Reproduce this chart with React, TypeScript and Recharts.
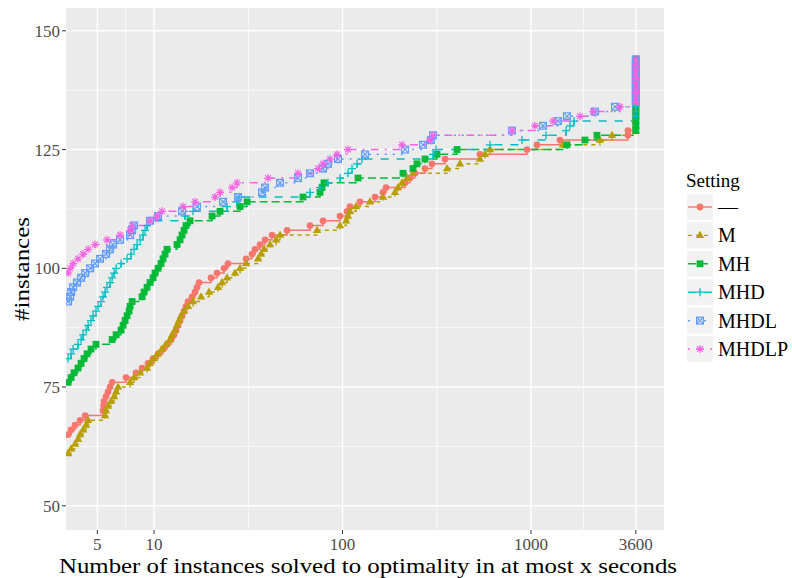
import React from 'react'
import { LineChart, Line, XAxis, YAxis, CartesianGrid, Label } from 'recharts'

type Pt = [number, number]

const settings = ['—', 'M', 'MH', 'MHD', 'MHDL', 'MHDLP']
const colors = ['#F8766D', '#B79F00', '#00BA38', '#00BFC4', '#619CFF', '#F564E3']
const dashes = ['', '4 4', '8 4', '8 8', '2 6', '2 6 8 6']

const xTicks = [5, 10, 100, 1000, 3600]
const xMinor = [7.07, 31.62, 316.2, 1897]
const yTicks = [50, 75, 100, 125, 150]
const yMinor = [62.5, 87.5, 112.5, 137.5]

// [seconds, #instances solved]
const plain: Pt[] = [
  [3.5, 65], [3.63, 66], [3.81, 67], [4.05, 68], [4.31, 69], [5.36, 70], [5.4, 71], [5.43, 72],
  [5.56, 73], [5.7, 74], [5.84, 75], [5.99, 76], [7.1, 77], [8.03, 78], [8.64, 79], [9.29, 80],
  [9.88, 81], [10.5, 82], [11.16, 83], [11.72, 84], [12.31, 85], [12.77, 86], [13.08, 87],
  [13.41, 88], [13.74, 89], [14.08, 90], [14.43, 91], [14.78, 92], [15.15, 93], [15.91, 94],
  [16.5, 95], [16.91, 96], [17.33, 97], [20.06, 98], [21.59, 99], [23.52, 100], [24.69, 101],
  [30.77, 102], [33.11, 103], [34.35, 104], [36.51, 105], [38.81, 106], [42.27, 107], [50.77, 108],
  [67.24, 109], [78.81, 110], [96.98, 111], [105.7, 112], [109.6, 113], [123.8, 114], [148.7, 115],
  [164, 116], [170.2, 117], [214.6, 118], [228.1, 119], [242.4, 120], [274, 121], [298.4, 122],
  [349.8, 123], [536.2, 124], [952.3, 125], [1076, 126], [1425, 127], [3270, 128], [3270, 129],
  [3600, 130], [3600, 131], [3600, 132], [3600, 133], [3600, 134], [3600, 135], [3600, 136],
  [3600, 137], [3600, 138], [3600, 139], [3600, 140], [3600, 141], [3600, 142], [3600, 143], [3600, 144],
]

const m: Pt[] = [
  [3.5, 61], [3.63, 62], [3.81, 63], [3.95, 64], [4.05, 65], [4.2, 66], [4.36, 67], [4.47, 68],
  [5.5, 69], [5.56, 70], [5.7, 71], [5.91, 72], [6.14, 73], [6.29, 74], [6.44, 75], [7.46, 76],
  [7.83, 77], [8.43, 78], [9.18, 79], [9.52, 80], [10, 81], [10.5, 82], [11.03, 83], [11.58, 84],
  [12.16, 85], [12.46, 86], [12.93, 87], [13.24, 88], [13.57, 89], [13.91, 90], [14.43, 91],
  [15.15, 92], [16.1, 93], [17.76, 94], [19.58, 95], [21.86, 96], [22.95, 97], [24.39, 98],
  [26.9, 99], [28.59, 100], [30.77, 101], [35.63, 102], [36.96, 103], [38.34, 104], [41.25, 105],
  [44.39, 106], [46.61, 107], [73.24, 108], [96.98, 109], [104.4, 110], [106.9, 111], [109.6, 112],
  [117.9, 113], [139.9, 114], [164, 115], [189.9, 116], [197, 117], [206.9, 118], [219.9, 119],
  [236.6, 120], [358.5, 121], [420.1, 122], [536.2, 123], [570.2, 124], [606.2, 125], [1478, 126],
  [2323, 127], [2690, 128],
  [3600, 129], [3600, 130], [3600, 131], [3600, 132], [3600, 133], [3600, 134], [3600, 135],
  [3600, 136], [3600, 137], [3600, 138], [3600, 139], [3600, 140], [3600, 141], [3600, 142],
  [3600, 143], [3600, 144],
]

const mh: Pt[] = [
  [3.5, 76], [3.63, 77], [3.76, 78], [3.95, 79], [4.1, 80], [4.25, 81], [4.41, 82], [4.63, 83],
  [4.92, 84], [5.99, 85], [6.29, 86], [6.68, 87], [6.85, 88], [7.02, 89], [7.19, 90], [7.37, 91],
  [7.46, 92], [7.65, 93], [8.64, 94], [8.85, 95], [9.18, 96], [9.52, 97], [9.88, 98], [10.12, 99],
  [10.5, 100], [10.89, 101], [11.16, 102], [11.44, 103], [11.72, 104], [13.24, 105], [13.74, 106],
  [14.08, 107], [14.43, 108], [14.78, 109], [15.53, 110], [20.31, 111], [22.39, 112], [28.59, 113],
  [31.15, 114], [61.72, 115], [75.96, 116], [77.84, 117], [79.78, 118], [120.9, 119], [209.4, 120],
  [236.6, 121], [248.4, 122], [274, 123], [317.2, 124], [405, 125], [1552, 126], [1934, 127],
  [2239, 128],
  [3600, 129], [3600, 130], [3600, 131], [3600, 132], [3600, 133], [3600, 134], [3600, 135],
  [3600, 136], [3600, 137], [3600, 138], [3600, 139], [3600, 140], [3600, 141], [3600, 142],
  [3600, 143], [3600, 144],
]

const mhd: Pt[] = [
  [3.5, 81], [3.63, 82], [3.72, 83], [3.95, 84], [4.1, 85], [4.2, 86], [4.36, 87], [4.47, 88],
  [4.63, 89], [4.75, 90], [4.92, 91], [5.05, 92], [5.23, 93], [5.36, 94], [5.5, 95], [5.63, 96],
  [5.84, 97], [5.99, 98], [6.14, 99], [6.29, 100], [6.68, 101], [7.19, 102], [7.55, 103], [7.83, 104],
  [8.13, 105], [8.43, 106], [8.74, 107], [8.96, 108], [9.18, 109], [9.52, 110], [14.6, 111],
  [16.1, 112], [24.39, 113], [27.56, 114], [28.24, 115], [67.24, 116], [75.96, 117], [83.76, 118],
  [96.98, 119], [106.9, 120], [112.3, 121], [119.5, 122], [126.9, 123], [302.1, 124], [313.4, 125],
  [606.2, 126], [896.3, 127], [1201, 128], [1534, 129], [1610, 130], [1691, 131],
  [3600, 132], [3600, 133], [3600, 134], [3600, 135], [3600, 136], [3600, 137], [3600, 138],
  [3600, 139], [3600, 140], [3600, 141], [3600, 142], [3600, 143], [3600, 144],
]

const mhdl: Pt[] = [
  [3.5, 93], [3.59, 94], [3.63, 95], [3.72, 96], [3.9, 97], [4.1, 98], [4.31, 99], [4.58, 100],
  [4.86, 101], [5.17, 102], [5.56, 103], [5.84, 104], [6.06, 105], [6.6, 106], [7.46, 107],
  [7.65, 108], [7.83, 109], [9.52, 110], [10.5, 111], [14.08, 112], [16.91, 113], [23.23, 114],
  [27.9, 115], [37.41, 116], [38.81, 117], [46.61, 118], [58.06, 119], [67.24, 120], [78.81, 121],
  [83.76, 122], [94.65, 123], [131.6, 124], [214.6, 125], [267.3, 126], [294.8, 127], [302.1, 128],
  [792.9, 129], [1158, 130], [1391, 131], [1552, 132], [2185, 133], [2790, 134],
  [3600, 135], [3600, 136], [3600, 137], [3600, 138], [3600, 139], [3600, 140], [3600, 141],
  [3600, 142], [3600, 143], [3600, 144],
]

const mhdlp: Pt[] = [
  [3.5, 99], [3.59, 100], [3.72, 101], [3.95, 102], [4.2, 103], [4.47, 104], [4.86, 105],
  [5.63, 106], [6.6, 107], [7.46, 108], [7.65, 109], [9.52, 110], [10.37, 111], [11.03, 112],
  [14.25, 113], [16.5, 114], [21.07, 115], [22.39, 116], [25.93, 117], [27.56, 118], [40.26, 119],
  [58.06, 120], [74.13, 121], [78.81, 122], [85.84, 123], [93.51, 124], [106.9, 125], [206.9, 126],
  [291.2, 127], [302.1, 128], [792.9, 129], [1050, 130], [1309, 131], [1820, 132], [2133, 133],
  [2966, 134],
  [3600, 135], [3600, 136], [3600, 137], [3600, 138], [3600, 139], [3600, 140], [3600, 141],
  [3600, 142], [3600, 143], [3600, 144],
]

const series = [plain, m, mh, mhd, mhdl, mhdlp]

const FONT = 'Liberation Serif, DejaVu Serif, serif'

function Marker({ shape, cx, cy, color }: { shape: number; cx: number; cy: number; color: string }) {
  if (cx == null || cy == null) return <g />
  const r = 4
  switch (shape) {
    case 0:
      return <circle cx={cx} cy={cy} r={3.4} fill={color} />
    case 1:
      return <polygon points={`${cx},${cy - 4.6} ${cx - 4.2},${cy + 2.6} ${cx + 4.2},${cy + 2.6}`} fill={color} />
    case 2:
      return <rect x={cx - 3.4} y={cy - 3.4} width={6.8} height={6.8} fill={color} />
    case 3:
      return <path d={`M${cx - r},${cy}H${cx + r}M${cx},${cy - r}V${cy + r}`} stroke={color} strokeWidth={1.3} fill="none" />
    case 4:
      return (
        <g stroke={color} strokeWidth={1.2} fill="none">
          <rect x={cx - 3.4} y={cy - 3.4} width={6.8} height={6.8} />
          <path d={`M${cx - 3.4},${cy - 3.4}L${cx + 3.4},${cy + 3.4}M${cx - 3.4},${cy + 3.4}L${cx + 3.4},${cy - 3.4}`} />
        </g>
      )
    default:
      return (
        <path
          d={`M${cx - r},${cy}H${cx + r}M${cx},${cy - r}V${cy + r}M${cx - 2.9},${cy - 2.9}L${cx + 2.9},${cy + 2.9}M${cx - 2.9},${cy + 2.9}L${cx + 2.9},${cy - 2.9}`}
          stroke={color}
          strokeWidth={1.2}
          fill="none"
        />
      )
  }
}

function LegendBox() {
  return (
    <svg width={106} height={200} style={{ position: 'absolute', left: 686, top: 165, fontFamily: FONT }}>
      <text x={0} y={22} style={{ fontFamily: FONT }} fontSize={19} fill="#000">Setting</text>
      {settings.map((s, i) => {
        const top = 29 + i * 28.4
        const cy = top + 13
        return (
          <g key={s}>
            <rect x={1} y={top} width={26} height={26} fill="#F2F2F2" />
            <line x1={2} x2={26} y1={cy} y2={cy} stroke={colors[i]} strokeWidth={1.4} strokeDasharray={dashes[i]} />
            <Marker shape={i} cx={14} cy={cy} color={colors[i]} />
            <text x={32} y={cy + 7} style={{ fontFamily: FONT }} fontSize={20} fill="#000">{s}</text>
          </g>
        )
      })}
    </svg>
  )
}

export default function App() {
  return (
    <div style={{ position: 'absolute', left: 0, top: 0, width: 792, height: 578, background: '#fff', fontFamily: FONT }}>
      <LineChart width={792} height={578} margin={{ top: 8, right: 128, left: 0, bottom: 0 }} style={{ fontFamily: FONT }}>
        <CartesianGrid fill="#EBEBEB" stroke="#fff" strokeWidth={0.7} horizontalValues={yMinor} verticalValues={xMinor} />
        <CartesianGrid stroke="#fff" strokeWidth={1.4} horizontalValues={yTicks} verticalValues={xTicks} />
        <XAxis
          dataKey="t"
          type="number"
          scale="log"
          domain={[3.41, 5080]}
          allowDataOverflow
          ticks={xTicks}
          height={48}
          axisLine={false}
          tickSize={4}
          tickMargin={4}
          tickLine={{ stroke: '#333' }}
          tick={{ fill: '#4D4D4D', fontSize: 17, style: { fontFamily: FONT } }}
        >
          <Label
            content={() => (
              <text x={368} y={573} textAnchor="middle" style={{ fontFamily: FONT }} fontSize={21} fill="#000" textLength={618} lengthAdjust="spacingAndGlyphs">
                Number of instances solved to optimality in at most  x seconds
              </text>
            )}
          />
        </XAxis>
        <YAxis
          type="number"
          domain={[44.9, 154.8]}
          allowDataOverflow
          ticks={yTicks}
          width={66}
          axisLine={false}
          tickSize={4}
          tickMargin={2}
          tickLine={{ stroke: '#333' }}
          tick={{ fill: '#4D4D4D', fontSize: 17, style: { fontFamily: FONT } }}
        >
          <Label
            content={() => (
              <text x={29} y={269} transform="rotate(-90 29 269)" textAnchor="middle" style={{ fontFamily: FONT }} fontSize={22} fill="#000" textLength={104} lengthAdjust="spacingAndGlyphs">
                #instances
              </text>
            )}
          />
        </YAxis>
        {series.map((pts, i) => (
          <Line
            key={settings[i]}
            data={pts.map(([t, n]) => ({ t, n }))}
            dataKey="n"
            name={settings[i]}
            type="stepAfter"
            stroke={colors[i]}
            strokeWidth={1.4}
            strokeDasharray={dashes[i] || undefined}
            dot={(p: any) => <Marker key={`${i}-${p.index}`} shape={i} cx={p.cx} cy={p.cy} color={colors[i]} />}
            activeDot={false}
            isAnimationActive={false}
          />
        ))}
      </LineChart>
      <LegendBox />
    </div>
  )
}
